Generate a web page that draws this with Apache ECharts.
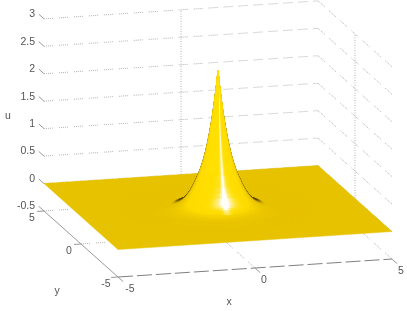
<!DOCTYPE html>
<html><head><meta charset="utf-8">
<style>html,body{margin:0;padding:0;background:#fff}#c{width:407px;height:311px}</style>
<script src="https://cdn.jsdelivr.net/npm/echarts@6/dist/echarts.min.js"></script>
</head><body><div id="c"></div>
<script>
// ---- values ----
const xTicks = [-5, 0, 5];
const yTicks = [-5, 0, 5];
const uTicks = [-0.5, 0, 0.5, 1, 1.5, 2, 2.5, 3];
const uTickLabels = ['-0.5', '0', '0.5', '1', '1.5', '2', '2.5', '3'];
// radial profile of the surface u(r)
const radii = [0,.035,.07,.12,.18,.24,.3,.36,.42,.48,.54,.6,.66,.72,.83,.93,1.02,1.11,1.19,1.27,1.35,1.44,1.53,1.62,1.8,2,2.25,2.5,3,3.5];
const uProfile = [2.5,2.32,2.16,1.96,1.73,1.535,1.36,1.2,1.065,.94,.834,.74,.65,.58,.453,.355,.278,.218,.171,.134,.105,.082,.064,.05,.031,.019,.01,.006,.002,0];

// ---- view ----
const P = {cx:218, cy:235, xx:27.4, xy:-7.4, yx:-1.8, yy:-6.6, z:54.9};
const project = (x,y,u) => [P.cx + P.xx*x + P.xy*y, P.cy + P.yx*x + P.yy*y - P.z*(u+0.5)];
const VIEW = [-0.2546,-0.936,0.2402], SLOPE = 2.0, ANGLES = 96;
const SHADE_DIR = [-0.257,-0.958,0.13];
const LIGHT = [-0.04,-0.77,0.64];
const PLANE_RGB=[230,194,0];
const RAMP = [[0,[85,65,0]],[0.05,[140,112,0]],[0.13,PLANE_RGB],[0.45,[255,220,0]],[1,[255,224,0]]];
function shade(m,dx,dy){
  const k=Math.hypot(m,1), n=[m*dx/k,m*dy/k,1/k];
  const nv=Math.max(0,n[0]*SHADE_DIR[0]+n[1]*SHADE_DIR[1]+n[2]*SHADE_DIR[2]);
  let c=RAMP[RAMP.length-1][1];
  for(let i=1;i<RAMP.length;i++){ if(nv<=RAMP[i][0]){const t=(nv-RAMP[i-1][0])/(RAMP[i][0]-RAMP[i-1][0]);
    c=RAMP[i-1][1].map((v,j)=>v+(RAMP[i][1][j]-v)*t);break;} }
  if(nv<0.13){ // the dark rim only shows where the surface is already steep
    let t=Math.min(1,Math.max(0,(m-0.2)/0.25)); t=t*t*(3-2*t);
    c=c.map((v,i)=>PLANE_RGB[i]+(v-PLANE_RGB[i])*t);
  }
  const nl=Math.max(0,n[0]*LIGHT[0]+n[1]*LIGHT[1]+n[2]*LIGHT[2]);
  const az=Math.max(0,dx*(-0.05)+dy*(-0.9987));
  const streak=m>0.3?Math.pow(az,260)*Math.min(1,m/0.8)*0.9:0;
  const spec=Math.min(1,Math.pow(nl,40)*0.9+streak);
  c=c.map((v,i)=>v+(255-v)*spec);
  return `rgb(${c[0]|0},${c[1]|0},${c[2]|0})`;
}

// ---- mesh ----
const cells=[];
for(let i=0;i<radii.length-1;i++){
  const m=(uProfile[i]-uProfile[i+1])/(radii[i+1]-radii[i])*SLOPE;
  for(let j=0;j<ANGLES;j++) {
    const a=(j+0.5)/ANGLES*2*Math.PI, r=(radii[i]+radii[i+1])/2, u=(uProfile[i]+uProfile[i+1])/2;
    const facing=m*Math.cos(a)*VIEW[0]+m*Math.sin(a)*VIEW[1]+VIEW[2];
    if(facing<-0.02) continue;
    const depth=Math.cos(a)*r*VIEW[0]+Math.sin(a)*r*VIEW[1]+u*SLOPE*VIEW[2];
    cells.push({i,j,depth});
  }
}
cells.sort((p,q)=>p.depth-q.depth);
const cellData=cells.map(c=>[c.i,c.j]);

const lo=-0.5, hi=3;
const gridLines=[];
uTicks.slice(1).forEach(u=>{
  gridLines.push([[-5,5,u],[5,5,u]]);
  gridLines.push([[5,5,u],[5,-5,u]]);
});
gridLines.push([[-5,5,lo],[5,5,lo]]);
gridLines.push([[5,5,lo],[5,-5,lo]]);
gridLines.push([[0,5,lo],[0,-5,lo]]);
gridLines.push([[-5,0,lo],[5,0,lo]]);
const wallVerticals=[[[0,5,lo],[0,5,hi]],[[5,0,lo],[5,0,hi]]];
const xAxisLine=[[[-5,-5,lo],[5,-5,lo]]];
const yAxisLine=[[[-5,-5,lo],[-5,5,lo]]];
const tickLines=[
  ...uTicks.map(u=>[[-5,5,u],[-5,5.7,u]]),
  ...xTicks.map(x=>[[x,-5,lo],[x,-5.7,lo]]),
  ...yTicks.map(y=>[[-5,y,lo],[-5.25,y,lo]])
];
const TXT={fontFamily:'Liberation Sans',fontSize:10.5,fill:'#555'};
const texts=[
  ...uTicks.map((u,i)=>({t:uTickLabels[i],x:35,y:project(-5,5,u)[1]-4.5,align:'right'})),
  ...xTicks.map(x=>{const p=project(x,-5,lo);return {t:String(x),x:p[0]+(x<0?12:9),y:p[1]+12.5,align:'center'};}),
  ...yTicks.map(y=>{const p=project(-5,y,lo);return {t:String(y),x:p[0]-12,y:p[1]+7,align:'center'};}),
  {t:'x',x:229,y:302,align:'center'},{t:'y',x:57,y:291,align:'center'},{t:'u',x:8,y:116,align:'center'}
];

const chart=echarts.init(document.getElementById('c'),null,{renderer:'canvas'});
const lineEl=(api,seg,style)=>({type:'polyline',shape:{points:seg.map(p=>api.coord(project(p[0],p[1],p[2])))},style,silent:true});
const lineSeries=(list,style,z)=>({type:'custom',coordinateSystem:'cartesian2d',clip:false,z,data:list.map((_,i)=>[i]),
  renderItem:(p,api)=>lineEl(api,list[api.value(0)],style)});
chart.setOption({
  animation:false,
  backgroundColor:'#fff',
  grid:{left:0,right:0,top:0,bottom:0},
  xAxis:{type:'value',min:0,max:407,show:false},
  yAxis:{type:'value',min:0,max:311,inverse:true,show:false},
  series:[
    lineSeries(gridLines,{stroke:'#b4b4b4',lineWidth:1,lineDash:[1,1,1,1,1,1,1,1,1,6],fill:null},1),
    lineSeries(wallVerticals,{stroke:'#b4b4b4',lineWidth:1,lineDash:[1,1.5],fill:null},1),
    lineSeries(xAxisLine,{stroke:'#808080',lineWidth:1,lineDash:[15,4],fill:null},2),
    lineSeries(yAxisLine,{stroke:'#999',lineWidth:1,fill:null},2),
    lineSeries(tickLines,{stroke:'#999',lineWidth:1,fill:null},2),
    {type:'custom',coordinateSystem:'cartesian2d',clip:false,z:3,data:[[0]],
     renderItem:(p,api)=>{const col=shade(0,0,0);
       return {type:'polygon',shape:{points:[[-5,-5],[5,-5],[5,5],[-5,5]].map(c=>api.coord(project(c[0],c[1],0)))},style:{fill:col,stroke:col,lineWidth:.5}};}},
    {type:'custom',coordinateSystem:'cartesian2d',clip:false,z:4,progressive:0,data:cellData,
     renderItem:(p,api)=>{
       const i=api.value(0), j=api.value(1), a0=j/ANGLES*2*Math.PI, a1=(j+1)/ANGLES*2*Math.PI, am=(a0+a1)/2;
       const pt=(r,u,a)=>api.coord(project(r*Math.cos(a),r*Math.sin(a),u));
       const m=(uProfile[i]-uProfile[i+1])/(radii[i+1]-radii[i])*SLOPE;
       const col=shade(m,Math.cos(am),Math.sin(am));
       return {type:'polygon',shape:{points:[pt(radii[i],uProfile[i],a0),pt(radii[i+1],uProfile[i+1],a0),pt(radii[i+1],uProfile[i+1],a1),pt(radii[i],uProfile[i],a1)]},
         style:{fill:col,stroke:col,lineWidth:.7}};
     }},
    {type:'custom',coordinateSystem:'cartesian2d',clip:false,z:5,data:texts.map((_,i)=>[i]),
     renderItem:(p,api)=>{const t=texts[api.value(0)],q=api.coord([t.x,t.y]);
       return {type:'text',x:q[0],y:q[1],style:{...TXT,text:t.t,textAlign:t.align,textVerticalAlign:'middle'}};}}
  ]
});
</script></body></html>
